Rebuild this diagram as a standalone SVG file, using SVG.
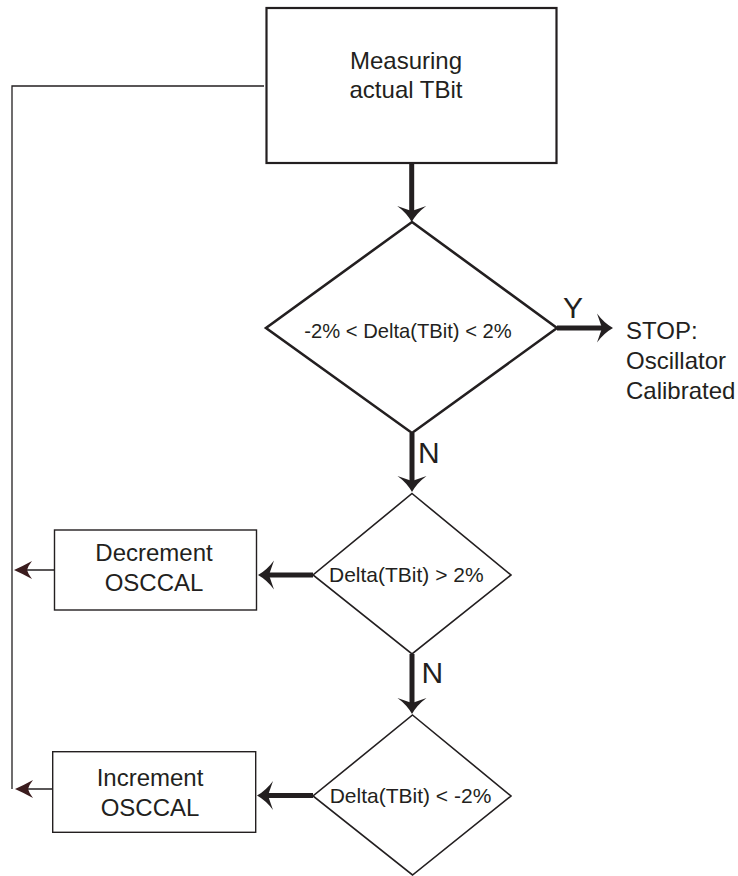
<svg xmlns="http://www.w3.org/2000/svg" width="738" height="876" viewBox="0 0 738 876">
<style>
.t{font-family:"Liberation Sans",Arial,sans-serif;fill:#231f20}
.box{fill:#fff;stroke:#231f20}
.thick{stroke:#231f20;stroke-width:5;fill:none}
.thin{stroke:#231f20;stroke-width:1.3;fill:none}
</style>
<defs>
<marker id="ah" viewBox="-20 -20 40 40" markerWidth="40" markerHeight="40" refX="0" refY="0" markerUnits="userSpaceOnUse" orient="auto" overflow="visible">
<path d="M8,0 Q-1,-5 -8,-14.5 Q-5,-6 -3,0 Q-5,6 -8,14.5 Q-1,5 8,0 Z" fill="#231f20"/>
</marker>
<marker id="as" viewBox="-20 -20 40 40" markerWidth="40" markerHeight="40" refX="0" refY="0" markerUnits="userSpaceOnUse" orient="auto" overflow="visible">
<path d="M4,0 Q-5,-4 -14,-9 Q-10,-4 -9,0 Q-10,4 -14,9 Q-5,4 4,0 Z" fill="#3a1c1e"/>
</marker>
</defs>
<rect width="738" height="876" fill="#fff"/>
<g id="connectors">
<path class="thin" d="M264,86 H12 V789"/>
<line class="thick" x1="411.7" y1="163" x2="411.7" y2="214" marker-end="url(#ah)"/>
<line class="thick" x1="557" y1="328" x2="605" y2="328" marker-end="url(#ah)"/>
<line class="thick" x1="412" y1="433" x2="412" y2="484" marker-end="url(#ah)"/>
<line class="thick" x1="313" y1="575" x2="266" y2="575" marker-end="url(#ah)"/>
<line class="thick" x1="412" y1="654" x2="412" y2="706" marker-end="url(#ah)"/>
<line class="thick" x1="313" y1="795.5" x2="265" y2="795.5" marker-end="url(#ah)"/>
<line class="thin" x1="54" y1="570" x2="18" y2="570" marker-end="url(#as)"/>
<line class="thin" x1="52" y1="789" x2="19" y2="789" marker-end="url(#as)"/>
<text class="t" x="563" y="318" font-size="30">Y</text>
<text class="t" x="418" y="463" font-size="30">N</text>
<text class="t" x="421.5" y="683" font-size="30">N</text>
</g>
<g id="measure">
<rect class="box" x="266.5" y="8" width="290" height="155" stroke-width="2.2"/>
<text class="t" font-size="24" text-anchor="middle"><tspan x="406" y="68.5">Measuring</tspan><tspan x="406" y="98">actual TBit</tspan></text>
</g>
<g id="check-range">
<polygon class="box" points="412,222 557,328 412,433 266,328" stroke-width="2.6"/>
<text class="t" x="408" y="338" font-size="20.2" text-anchor="middle">-2% &lt; Delta(TBit) &lt; 2%</text>
</g>
<g id="stop">
<text class="t" font-size="24"><tspan x="626" y="339.3">STOP:</tspan><tspan x="626" y="369.3">Oscillator</tspan><tspan x="626" y="399.3">Calibrated</tspan></text>
</g>
<g id="check-high">
<polygon class="box" points="412,493.5 511,575 412,654 313,575" stroke-width="1.6"/>
<text class="t" x="406.3" y="581.7" font-size="21" text-anchor="middle">Delta(TBit) &gt; 2%</text>
</g>
<g id="decrement">
<rect class="box" x="54.5" y="530" width="202" height="80" stroke-width="1.4"/>
<text class="t" font-size="24" text-anchor="middle"><tspan x="154" y="561">Decrement</tspan><tspan x="154" y="590.7">OSCCAL</tspan></text>
</g>
<g id="check-low">
<polygon class="box" points="412.5,715 511,796 412.5,875 313,796" stroke-width="1.6"/>
<text class="t" x="410.5" y="803.3" font-size="21" text-anchor="middle">Delta(TBit) &lt; -2%</text>
</g>
<g id="increment">
<rect class="box" x="52.7" y="751.7" width="203" height="80.6" stroke-width="1.4"/>
<text class="t" font-size="24" text-anchor="middle"><tspan x="150" y="785.7">Increment</tspan><tspan x="150" y="815.7">OSCCAL</tspan></text>
</g>
</svg>
